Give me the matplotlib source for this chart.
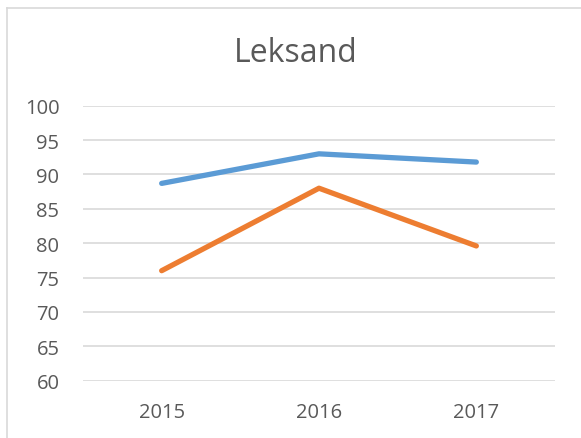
import matplotlib.pyplot as plt
from matplotlib.lines import Line2D

years = ["2015", "2016", "2017"]
series_blue = [88.7, 93.0, 91.8]
series_orange = [76.0, 88.0, 79.6]
y_ticks = [60, 65, 70, 75, 80, 85, 90, 95, 100]

plt.rcParams["font.family"] = ["Open Sans", "DejaVu Sans"]
text_color = "#595959"

W, H = 581, 439
fig = plt.figure(figsize=(W / 100, H / 100), dpi=100)
ax = fig.add_axes([83 / W, 1 - 381.7 / H, (555 - 83) / W, (381.7 - 106.7) / H])

x = list(range(len(years)))
ax.plot(x, series_blue, color="#5b9bd5", lw=3.8, solid_capstyle="round", zorder=3)
ax.plot(x, series_orange, color="#ed7d31", lw=3.8, solid_capstyle="round", zorder=3)

ax.set_xlim(-0.5, len(years) - 0.5)
ax.set_ylim(60, 100)
ax.set_yticks(y_ticks)
ax.set_xticks(x)
ax.set_xticklabels(years)
ax.grid(axis="y", color="#d9d9d9", lw=1.2)
ax.set_axisbelow(True)
for s in ax.spines.values():
    s.set_visible(False)
ax.tick_params(length=0, labelsize=14.5, colors=text_color)
ax.tick_params(axis="y", pad=17)
ax.tick_params(axis="x", pad=15)

fig.text(296 / W, 1 - 53 / H, "Leksand", ha="center", va="center",
         fontsize=23, color=text_color)

# chart frame (left and top edges visible in the crop)
fig.add_artist(Line2D([7 / W, 7 / W], [0, 1 - 8.5 / H], color="#d9d9d9", lw=1.2,
                      transform=fig.transFigure))
fig.add_artist(Line2D([7 / W, 1], [1 - 8.5 / H, 1 - 8.5 / H], color="#d9d9d9", lw=1.2,
                      transform=fig.transFigure))

fig.savefig("out.png", dpi=100)
